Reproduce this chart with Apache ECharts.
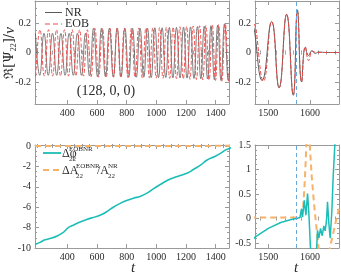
<!DOCTYPE html>
<html><head><meta charset="utf-8">
<script src="https://cdn.jsdelivr.net/npm/echarts@6/dist/echarts.min.js"></script>
<style>html,body{margin:0;padding:0;background:#fff}#c{width:341px;height:276px}</style>
</head><body><div id="c"></div>
<script>
// ---- data ----
const nrT = [185,214,242.8,271.5,300,328.4,356.6,384.7,412.6,440.4,468,495.5,522.8,550,577,603.9,630.6,657.2,683.7,710,736.2,762.2,788.1,813.8,839.4,864.9,890.2,915.4,940.4,965.3,990.1,1014.7,1039.2,1063.6,1087.8,1111.9,1135.9,1159.8,1183.5,1207.1,1230.6,1253.9,1277.1,1300.2,1323.2,1346,1368.7,1391.3,1413.8,1436.1,1460,1485,1508,1526,1544,1560,1570,1580,1589,1597,1605,1613,1621,1640,1670];
const nrV = [0.13,-0.155,0.13,-0.155,0.13,-0.155,0.13,-0.155,0.13,-0.155,0.13,-0.155,0.13,-0.16,0.165,-0.165,0.165,-0.165,0.165,-0.165,0.165,-0.165,0.165,-0.168,0.165,-0.168,0.165,-0.168,0.165,-0.17,0.168,-0.17,0.168,-0.17,0.17,-0.172,0.17,-0.172,0.172,-0.174,0.174,-0.176,0.176,-0.178,0.178,-0.18,0.182,-0.184,0.186,-0.19,0.195,-0.19,0.21,-0.24,0.26,-0.29,0.29,-0.2,0.035,-0.02,0.012,-0.006,0.003,0,0];
const eobT = [186.6,215.6,244.6,273.6,300.7,327.3,354.1,381,407.9,432.9,457.8,482.9,508.6,534.2,559.9,585.4,611.2,636.8,662.4,687.4,711.7,735.9,760,784.3,808.5,832.7,856.9,881.3,905.7,929.9,953.2,976.3,999.4,1022.3,1045,1067.7,1090.3,1113.1,1136.1,1158.9,1181.7,1204.1,1226.4,1248.7,1270.6,1292,1313.4,1334.6,1355.8,1377.4,1398.9,1420.3,1441.5,1464.3,1488.2,1508,1526,1544,1560,1570,1580,1589,1597,1606,1615,1670];
const eobV = [-0.16,0.155,-0.16,0.155,-0.16,0.155,-0.16,0.155,-0.16,0.155,-0.16,0.155,-0.16,0.155,-0.165,0.165,-0.168,0.165,-0.168,0.165,-0.168,0.165,-0.17,0.165,-0.17,0.165,-0.17,0.167,-0.172,0.167,-0.172,0.168,-0.174,0.17,-0.175,0.172,-0.176,0.173,-0.178,0.175,-0.18,0.177,-0.182,0.18,-0.184,0.182,-0.186,0.184,-0.188,0.187,-0.19,0.19,-0.195,0.197,-0.195,0.21,-0.24,0.26,-0.29,0.28,-0.2,0.04,-0.055,0.01,0,0];
const dphiT = [182,215,250,290,328,370,406,435,463,495,530,575,620,660,710,760,800,850,890,940,980,1030,1070,1110,1160,1210,1250,1300,1340,1390,1430,1468,1500,1530,1555,1568,1572,1576,1580,1582.4,1586.4,1590.4,1594.4,1597.6,1601.6,1608,1616,1618.4,1621.6,1625.6,1629.6,1633.6,1636.8,1640,1642.4,1645.6,1648.8,1652.8,1656,1660,1666,1670];
const dphiV = [-9.65,-9.45,-9.2,-9.05,-8.85,-8.5,-8.0,-7.8,-7.6,-7.4,-7.2,-7.0,-6.8,-6.5,-6.0,-5.6,-5.35,-5.1,-4.95,-4.6,-4.2,-3.75,-3.4,-3.15,-2.9,-2.65,-2.3,-1.85,-1.4,-1.05,-0.75,-0.38,-0.2,-0.08,-0.02,0.0,0.0,0.02,0.2,0.03,0.37,0.07,0.51,0.1,-0.65,-0.9,-0.65,-0.24,-0.4,-0.2,-0.35,-0.15,-0.25,-0.03,0.34,-0.1,-0.4,0.15,0.85,1.5,2.6,3.2];
const dampT = [182,400,800,1200,1468,1500,1540,1570,1578,1584,1588,1592,1596,1599,1604,1610,1616,1622,1630,1640,1648,1656,1664,1670];
const dampV = [0,0,0,0,0.02,0.02,0.02,0.02,0.05,0.25,0.8,1.6,2.5,1.6,0.9,0.3,-0.2,-0.7,-1.0,-0.9,-0.6,-0.3,0.0,0.2];
const mergerT = [1568];
const leftXTicks = [400,600,800,1000,1200,1400];
const rightXTicks = [1500,1600];
const waveYTicks = [-0.2,0,0.2];
const phaseYTicks = [-10,-8,-6,-4,-2,0];
const ringYTicks = [-0.5,0,0.5,1,1.5];

function steps(a, b, s, skip) {
  const out = [];
  for (let k = 0; a + k * s <= b + 1e-9; k++) {
    const v = Math.round((a + k * s) * 1000) / 1000;
    if (!skip.some(m => Math.abs(m - v) < 1e-6)) out.push(v);
  }
  return out;
}
const zip = (t, v) => t.map((x, i) => [x, v[i]]);

const AX = '#9a9a9a';
const LBL = {color:'#2b2b2b', fontFamily:'Liberation Serif', fontSize:10};

function mkAxes(kind, gi, min, max, major, minor, labels) {
  const pos = kind === 'x' ? ['bottom','top'] : ['left','right'];
  const out = [];
  pos.forEach((p, k) => {
    out.push({type:'value', gridIndex:gi, position:p, min, max,
      axisLine:{show:true, onZero:false, lineStyle:{color:AX, width:1}},
      axisTick:{show:true, inside:true, length:4, customValues:major, lineStyle:{color:AX}},
      axisLabel:{show: labels && k === 0, customValues:major, margin:4, formatter: v => String(v), ...LBL},
      splitLine:{show:false}});
    out.push({type:'value', gridIndex:gi, position:p, min, max,
      axisLine:{show:false},
      axisTick:{show:true, inside:true, length:2, customValues:minor, lineStyle:{color:AX}},
      axisLabel:{show:false}, splitLine:{show:false}});
  });
  return out;
}

const LX = [182, 1490], RX = [1468, 1670];
const WY = [-0.35, 0.35], PY = [-10, 0.1], RY = [-0.6, 1.5];

const xAxes = [].concat(
  mkAxes('x', 0, LX[0], LX[1], leftXTicks, steps(200, 1450, 50, leftXTicks), true),
  mkAxes('x', 1, RX[0], RX[1], rightXTicks, steps(1480, 1660, 20, rightXTicks), true),
  mkAxes('x', 2, LX[0], LX[1], leftXTicks, steps(200, 1450, 50, leftXTicks), true),
  mkAxes('x', 3, RX[0], RX[1], rightXTicks, steps(1480, 1660, 20, rightXTicks), true)
);
const yAxes = [].concat(
  mkAxes('y', 0, WY[0], WY[1], waveYTicks, steps(-0.3, 0.3, 0.05, waveYTicks), true),
  mkAxes('y', 1, WY[0], WY[1], waveYTicks, steps(-0.3, 0.3, 0.05, waveYTicks), true),
  mkAxes('y', 2, PY[0], PY[1], phaseYTicks, steps(-9.5, -0.5, 0.5, phaseYTicks), true),
  mkAxes('y', 3, RY[0], RY[1], ringYTicks, steps(-0.5, 1.5, 0.1, ringYTicks), true)
);

const NRC = '#5a5a5a', EOBC = '#ea4a47', TEAL = '#1cbdb6', ORG = '#f7b168', BLUE = '#6aa9dc';
const vline = {silent:true, symbol:'none', label:{show:false},
  lineStyle:{color:BLUE, type:[4,3], width:1}, data: mergerT.map(t => ({xAxis:t}))};

const series = [
  {type:'line', xAxisIndex:0, yAxisIndex:0, data:zip(nrT, nrV), smooth:true, symbol:'none',
   lineStyle:{color:NRC, width:0.8}},
  {type:'line', xAxisIndex:0, yAxisIndex:0, data:zip(eobT, eobV), smooth:true, symbol:'none',
   lineStyle:{color:EOBC, width:0.9, type:[4,2]}},
  {type:'line', xAxisIndex:4, yAxisIndex:4, data:zip(nrT, nrV), smooth:true, symbol:'none',
   lineStyle:{color:NRC, width:1}, markLine: vline},
  {type:'line', xAxisIndex:4, yAxisIndex:4, data:zip(eobT, eobV), smooth:true, symbol:'none',
   lineStyle:{color:EOBC, width:1, type:[4,2]}},
  {type:'line', xAxisIndex:8, yAxisIndex:8, data:zip(dampT, dampV), symbol:'none',
   lineStyle:{color:ORG, width:2, type:[6,4]}},
  {type:'line', xAxisIndex:8, yAxisIndex:8, data:zip(dphiT, dphiV), smooth:0.4, symbol:'none',
   lineStyle:{color:TEAL, width:1.6}},
  {type:'line', xAxisIndex:12, yAxisIndex:12, data:zip(dampT, dampV), symbol:'none',
   lineStyle:{color:ORG, width:2, type:[6,4]}},
  {type:'line', xAxisIndex:12, yAxisIndex:12, data:zip(dphiT, dphiV), symbol:'none',
   lineStyle:{color:TEAL, width:1.5}, markLine: vline}
];

const SERIF = '"Liberation Serif", serif';
function txt(x, y, s, size, extra) {
  return {type:'text', z:100, style:Object.assign({x, y, text:s, font:size + 'px ' + SERIF,
    fill:'#2b2b2b', align:'left', verticalAlign:'middle'}, extra || {})};
}
function seg(x1, x2, y, color, w, dash) {
  return {type:'line', z:100, shape:{x1, y1:y, x2, y2:y},
    style:{stroke:color, lineWidth:w, lineDash:dash || null}};
}

const graphic = [
  {type:'text', z:100, x:10, y:53, rotation:Math.PI/2,
   style:{text:'{m|ℜ[Ψ}{s|22}{m|]/}{i|ν}', align:'center', verticalAlign:'middle',
     rich:{
       m:{fontFamily:'DejaVu Serif', fontSize:13, fill:'#2b2b2b', lineHeight:16},
       i:{fontFamily:'Liberation Serif', fontStyle:'italic', fontSize:15, fill:'#2b2b2b', lineHeight:16},
       s:{fontFamily:'Liberation Serif', fontSize:8, fill:'#2b2b2b', verticalAlign:'bottom', lineHeight:10}
     }}},
  seg(45, 62, 12.5, NRC, 1), txt(65, 12.5, 'NR', 12),
  seg(45, 62, 24, EOBC, 1, [5,3]), txt(65, 24, 'EOB', 12),
  txt(106, 91, '(128, 0, 0)', 14, {align:'center'}),
  seg(43, 61, 153, TEAL, 1.8), txt(62, 154, 'Δφ', 12),
  txt(69, 149, 'EOBNR', 7), txt(69, 159, '22', 7),
  seg(43, 61, 170, ORG, 2, [6,4]), txt(62, 171, 'ΔA', 12),
  txt(76, 166, 'EOBNR', 7), txt(76, 176, '22', 7),
  txt(97, 171, '/A', 12), txt(108, 166, 'NR', 7), txt(108, 176, '22', 7),
  txt(133, 268, 't', 15, {align:'center', font:'italic 15px ' + SERIF}),
  txt(296, 268, 't', 15, {align:'center', font:'italic 15px ' + SERIF})
];

const G = (left, top) => ({left, top, width:(left < 100 ? 194 : 84), height:103, outerBoundsMode:'none', containLabel:false});
const chart = echarts.init(document.getElementById('c'), null, {renderer:'canvas'});
chart.setOption({
  animation:false,
  grid:[G(35, 1), G(255, 1), G(35, 145), G(255, 145)],
  xAxis:xAxes, yAxis:yAxes, series, graphic
});
</script></body></html>
